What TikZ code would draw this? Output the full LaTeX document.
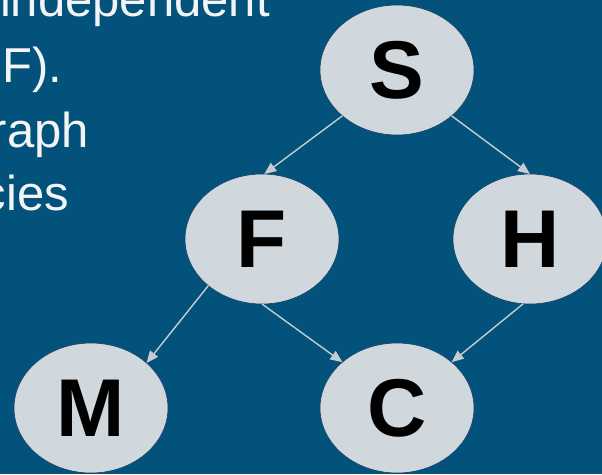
\documentclass[tikz,border=0pt]{standalone}
\usepackage{fontspec}
\setmainfont{Liberation Sans}
\usetikzlibrary{arrows.meta,shapes.geometric}
\definecolor{bg}{RGB}{2,82,124}
\definecolor{nodefill}{RGB}{208,216,222}
\definecolor{nodeline}{RGB}{20,60,95}
\definecolor{edgecol}{RGB}{200,204,208}
\definecolor{txt}{RGB}{242,244,246}
\begin{document}
\begin{tikzpicture}[x=1pt,y=-1pt,
  var/.style={ellipse, minimum width=154pt, minimum height=130pt, inner sep=0pt, outer sep=0pt,
    fill=nodefill, draw=nodeline, line width=0.6pt, text=black,
    font=\fontsize{82}{82}\selectfont\bfseries},
  link/.style={draw=edgecol, line width=1.4pt, -{Triangle[length=12pt,width=10pt]}},
  frag/.style={inner sep=0pt, text=txt, font=\fontsize{49}{49}\selectfont}]
\fill[bg] (0,0) rectangle (602,474);
\useasboundingbox (0,0) rectangle (602,474);
\clip (0,0) rectangle (602,474);
% text fragments
\node[frag, anchor=base east] (t1) at (270,16) {independent};
\node[frag, anchor=base west] (t2) at (2,82) {F).};
\node[frag, anchor=base east] (t3) at (89,147) {raph};
\node[frag, anchor=base east] (t4) at (69,210) {cies};
% nodes
\node[var] (S) at (397,70) {S};
\node[var] (F) at (262,239) {F};
\node[var] (H) at (530,239) {H};
\node[var] (M) at (91,408) {M};
\node[var] (C) at (397,408) {C};
% edges
\draw[link] (S.220) -- (F.88);
\draw[link] (S.320) -- (H.90);
\draw[link] (F.221) -- (M.39);
\draw[link] (F.270) -- (C.140);
\draw[link] (H.264) -- (C.40);
\end{tikzpicture}
\end{document}
